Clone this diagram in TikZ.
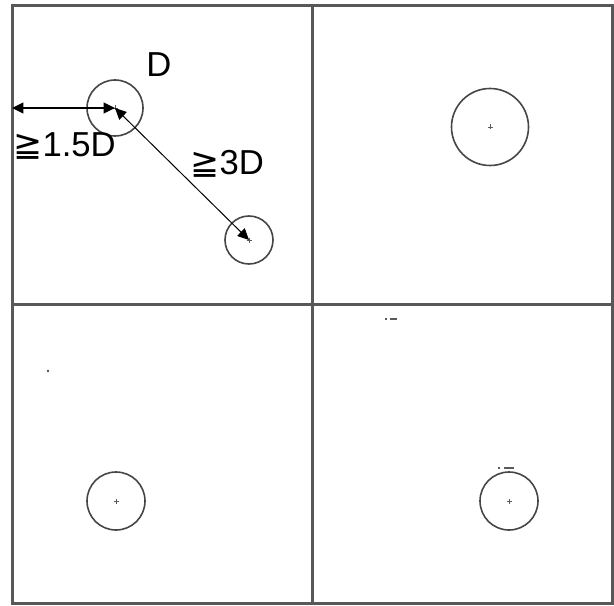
\documentclass[tikz,border=0pt]{standalone}
\usepackage{fontspec}
\setmainfont{Liberation Sans}
\newfontfamily\symfont{DejaVu Sans}
\usetikzlibrary{arrows.meta}

\tikzset{every picture/.style={line width=0.75pt}}
\tikzset{
  frame/.style={draw={rgb,255:red,88;green,88;blue,88}, line width=2.25pt},
  hole/.style={circle, draw={rgb,255:red,70;green,70;blue,70}, line width=1.2pt, inner sep=0pt},
  dimarrow/.style={{Triangle[length=8.5pt,width=8pt]}-{Triangle[length=8.5pt,width=8pt]}, black},
  label/.style={inner sep=0pt, font=\fontsize{26}{30}\selectfont},
  speck/.style={draw={rgb,255:red,90;green,90;blue,90}, line width=0.8pt}
}

\begin{document}
\begin{tikzpicture}[x=0.75pt,y=0.75pt,yscale=-1,xscale=1]
\useasboundingbox (0,0) rectangle (614,606);

%Shape: Rectangle and cross lines
\draw [frame] (12,6) rectangle (612,603);
\draw [frame] (312,6) -- (312,603);
\draw [frame] (12,304) -- (612,304);

%Shape: Circle
\node [hole, minimum size=42pt] (c1) at (115,108) {};
\node [hole, minimum size=36pt] (c2) at (249,240) {};
\node [hole, minimum size=57.75pt] (c3) at (490,127) {};
\node [hole, minimum size=43.5pt] (c4) at (116,501) {};
\node [hole, minimum size=43.5pt] (c5) at (509,501) {};

%Centre marks
\foreach \c in {c1,c2,c3,c4,c5}
  \draw [speck, line width=0.5pt] (\c.center) ++(-2.5,0) -- ++(5,0) (\c.center) ++(0,-2.5) -- ++(0,5);

%Straight Lines
\coordinate (wall) at (12,108);
\draw [dimarrow, line width=1.6pt] (wall) -- (c1.center);
\draw [dimarrow] (c1.center) -- (c2.center);

%Specks
\fill [fill={rgb,255:red,80;green,80;blue,80}] (48,371) circle (1.3);
\draw [speck] (385,319) -- (387,319) (390,319) -- (397,319);
\draw [speck] (498,468) -- (500,468) (504,468) -- (514,468);

% Text Node
\node [label] (lblD) at (159,65) {D};
% Text Node
\node [label, anchor=base west] (lblA) at (13,157) {{\symfont ≧}1.5D};
% Text Node
\node [label, anchor=base west] (lblB) at (190,175) {{\symfont ≧}3D};

\end{tikzpicture}
\end{document}
